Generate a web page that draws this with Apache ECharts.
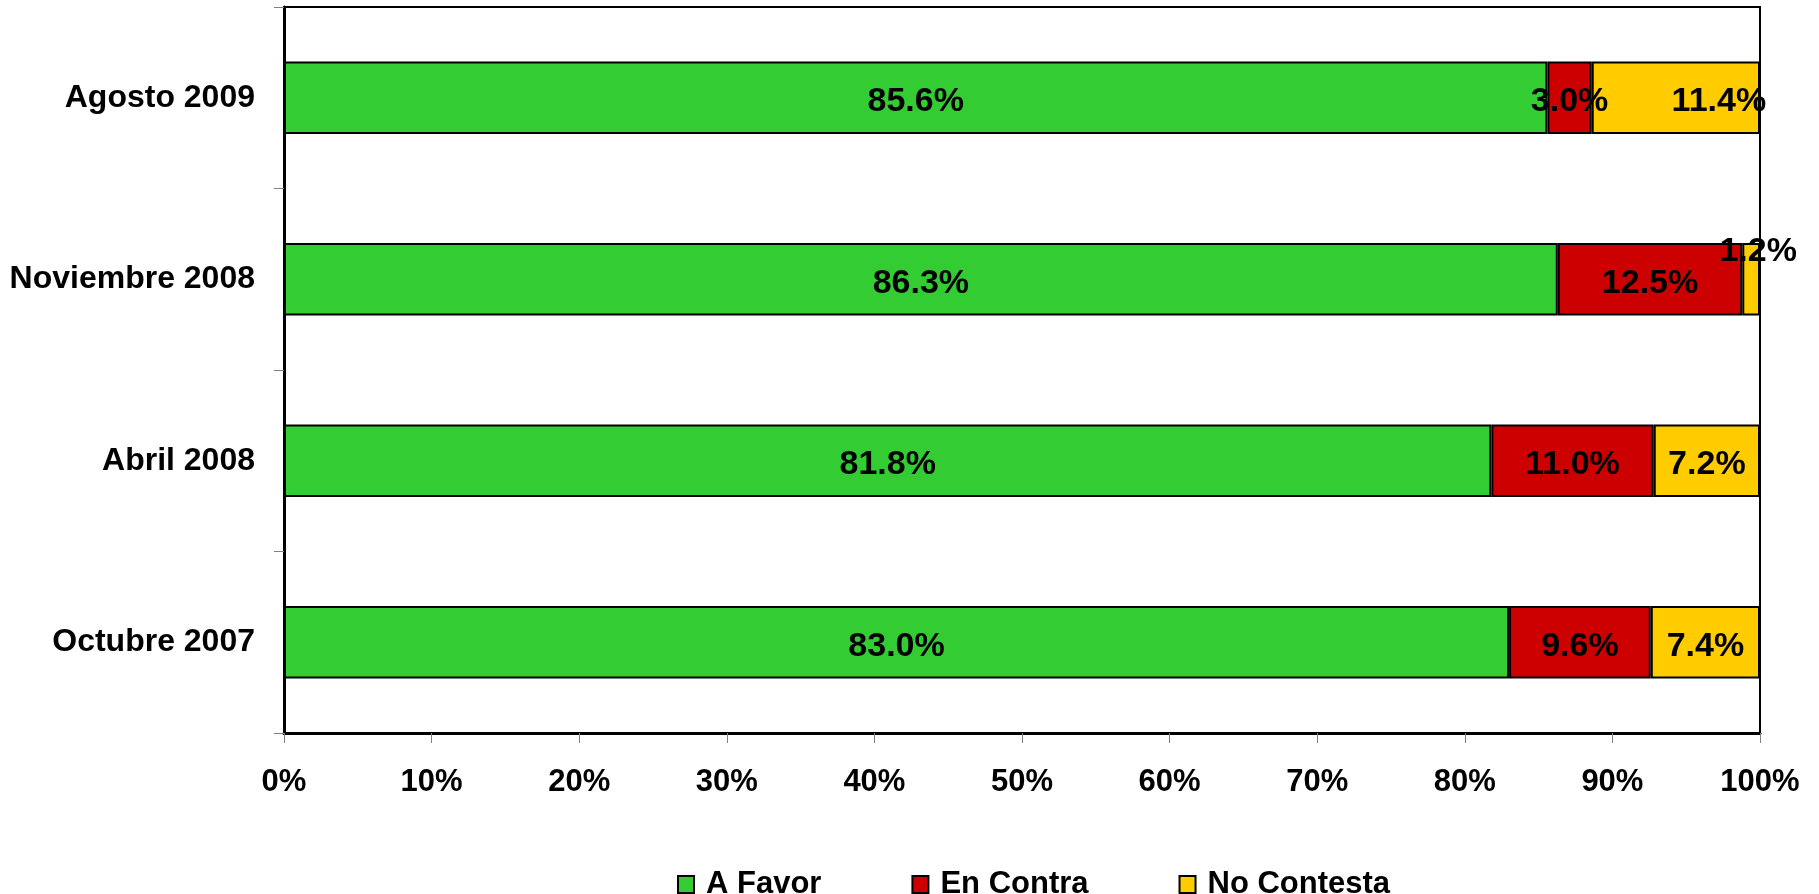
<!DOCTYPE html>
<html>
<head>
<meta charset="utf-8">
<script src="https://cdn.jsdelivr.net/npm/echarts@6/dist/echarts.min.js"></script>
<style>
html,body{margin:0;padding:0;background:#fff;}
#c{width:1819px;height:894px;}
</style>
</head>
<body>
<div id="c"></div>
<script>
const categories = ['Agosto 2009', 'Noviembre 2008', 'Abril 2008', 'Octubre 2007'];
const aFavor = [85.6, 86.3, 81.8, 83.0];
const enContra = [3.0, 12.5, 11.0, 9.6];
const noContesta = [11.4, 1.2, 7.2, 7.4];
const xTicks = [0, 10, 20, 30, 40, 50, 60, 70, 80, 90, 100];

const FONT = 'Arial, "Liberation Sans", sans-serif';
const labelOffsets = {
  'No Contesta': { 0: [43, 4], 1: [7, -28] }
};

function makeSeries(name, data, color) {
  return {
    name: name,
    type: 'bar',
    stack: 'total',
    barWidth: '40%',
    itemStyle: { color: color, borderColor: '#000', borderWidth: 2 },
    label: {
      show: true,
      position: 'inside',
      offset: [0, 4],
      formatter: p => p.value.toFixed(1) + '%',
      color: '#000',
      fontFamily: FONT,
      fontWeight: 'bold',
      fontSize: 34
    },
    data: data.map((v, i) => {
      const off = labelOffsets[name] && labelOffsets[name][i];
      return off ? { value: v, label: { offset: off } } : v;
    })
  };
}

const chart = echarts.init(document.getElementById('c'));
chart.setOption({
  animation: false,
  backgroundColor: '#fff',
  grid: {
    left: 284, right: 59, top: 7, bottom: 161,
    show: true, borderColor: '#000', borderWidth: 2, backgroundColor: 'transparent'
  },
  legend: {
    left: 672, top: 864,
    itemWidth: 16, itemHeight: 17, itemGap: 90,
    icon: 'rect',
    itemStyle: { borderColor: '#000', borderWidth: 2 },
    textStyle: { fontFamily: FONT, fontWeight: 'bold', fontSize: 31, color: '#000', padding: [0, 0, 0, 7] },
    data: ['A Favor', 'En Contra', 'No Contesta']
  },
  xAxis: {
    type: 'value',
    min: xTicks[0], max: xTicks[xTicks.length - 1], interval: 10,
    axisLine: { show: true, lineStyle: { color: '#000', width: 3 } },
    axisTick: { show: true, length: 10, lineStyle: { color: '#808080', width: 1 } },
    splitLine: { show: false },
    axisLabel: {
      margin: 34,
      formatter: v => v + '%',
      color: '#000', fontFamily: FONT, fontWeight: 'bold', fontSize: 31
    }
  },
  yAxis: {
    type: 'category',
    inverse: true,
    data: categories,
    axisLine: { show: true, lineStyle: { color: '#000', width: 3 } },
    axisTick: { show: true, length: 10, lineStyle: { color: '#808080', width: 1 } },
    axisLabel: {
      margin: 29,
      color: '#000', fontFamily: FONT, fontWeight: 'bold', fontSize: 32
    }
  },
  series: [
    makeSeries('A Favor', aFavor, '#33CC33'),
    makeSeries('En Contra', enContra, '#CC0000'),
    makeSeries('No Contesta', noContesta, '#FFCC00')
  ]
});
</script>
</body>
</html>
